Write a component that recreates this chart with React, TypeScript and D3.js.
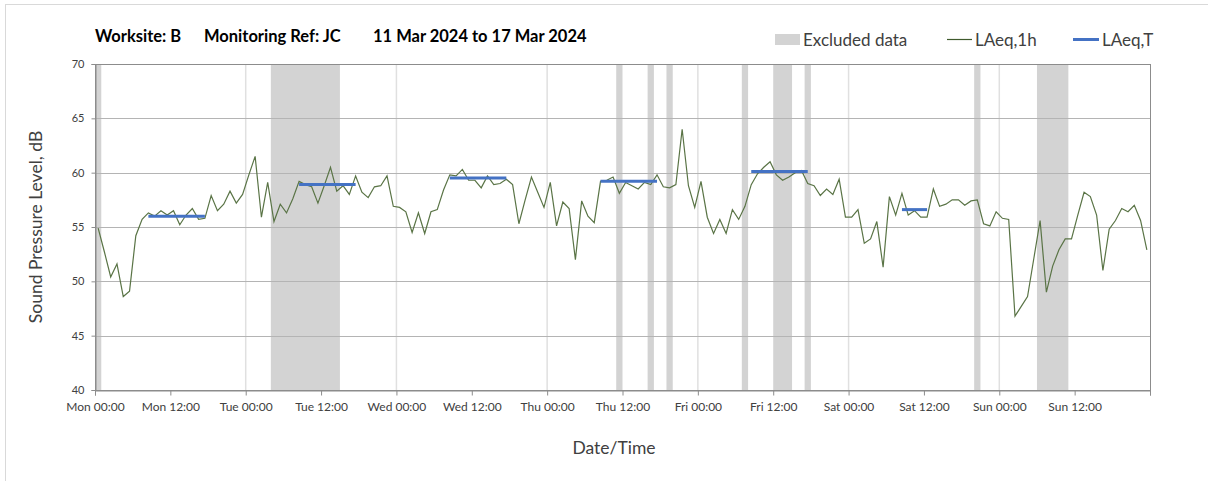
import React, { useEffect, useRef } from 'react';
import * as d3 from 'd3';

// hourly LAeq,1h values, Mon 11 Mar 00:00 .. Sun 17 Mar 23:00
const monValues = [54.9, 52.7, 50.4, 51.6, 48.6, 49.1, 54.2, 55.7, 56.3, 56.0, 56.5, 56.1, 56.5, 55.2, 56.1, 56.7, 55.7, 55.8, 57.9, 56.5, 57.1, 58.3, 57.2, 58.0];
const tueValues = [59.8, 61.5, 55.9, 59.1, 55.5, 57.1, 56.3, 57.6, 59.2, 58.9, 58.7, 57.2, 58.8, 60.5, 58.3, 58.8, 58.0, 59.7, 58.2, 57.7, 58.7, 58.8, 59.7, 56.9];
const wedValues = [56.8, 56.4, 54.5, 56.3, 54.4, 56.4, 56.6, 58.4, 59.8, 59.7, 60.3, 59.3, 59.3, 58.6, 59.7, 58.9, 59.0, 59.4, 58.9, 55.3, 57.5, 59.6, 58.2, 56.8];
const thuValues = [59.1, 55.1, 57.3, 56.7, 52.0, 57.4, 56.0, 55.4, 59.2, 59.3, 59.6, 58.1, 59.1, 58.8, 58.5, 59.1, 58.9, 59.8, 58.7, 58.6, 58.9, 64.0, 58.8, 56.8];
const friValues = [59.2, 55.9, 54.4, 55.7, 54.4, 56.6, 55.7, 56.9, 58.9, 59.9, 60.5, 61.0, 59.8, 59.3, 59.6, 60.0, 60.2, 59.0, 58.8, 57.9, 58.5, 58.0, 59.4, 55.9];
const satValues = [55.9, 56.6, 53.5, 53.9, 55.5, 51.3, 57.8, 56.1, 58.1, 56.1, 56.5, 55.9, 55.9, 58.5, 56.9, 57.1, 57.5, 57.5, 57.0, 57.4, 57.5, 55.3, 55.1, 56.4];
const sunValues = [55.8, 55.7, 46.8, 47.7, 48.6, 52.1, 55.6, 49.0, 51.4, 52.9, 53.9, 53.9, 56.1, 58.2, 57.8, 56.1, 51.0, 54.8, 55.6, 56.7, 56.4, 57.0, 55.6, 52.9];

// excluded periods, hours from Mon 00:00
const excludedStart = [0, 28, 83, 88, 91, 103, 108, 113, 140, 150];
const excludedEnd = [1, 39, 84, 89, 92, 104, 111, 114, 141, 155];

// LAeq,T working periods
const periodDay = [0, 1, 2, 3, 4, 5];
const periodStart = [8, 8, 8, 8, 8, 8];
const periodEnd = [17, 17, 17, 17, 17, 12];
const periodValue = [56.0, 58.9, 59.5, 59.2, 60.1, 56.6];

const tickLabels = ['Mon 00:00', 'Mon 12:00', 'Tue 00:00', 'Tue 12:00', 'Wed 00:00', 'Wed 12:00', 'Thu 00:00', 'Thu 12:00', 'Fri 00:00', 'Fri 12:00', 'Sat 00:00', 'Sat 12:00', 'Sun 00:00', 'Sun 12:00', ''];
const yTicks = [40, 45, 50, 55, 60, 65, 70];

const W = 1208;
const H = 481;
const FONT = 'Lato, "Open Sans", sans-serif';

export default function App() {
  const ref = useRef<SVGSVGElement>(null);

  useEffect(() => {
    const svg = d3.select(ref.current);
    svg.selectAll('*').remove();

    const left = 95, right = 1150, top = 64, bottom = 390;
    const x = d3.scaleLinear().domain([0, 168]).range([left, right]);
    const y = d3.scaleLinear().domain([40, 70]).range([bottom, top]);

    const values = [...monValues, ...tueValues, ...wedValues, ...thuValues, ...friValues, ...satValues, ...sunValues];

    // outer frame
    svg.append('rect')
      .attr('x', 5.5).attr('y', 4.5)
      .attr('width', 1220).attr('height', 500)
      .attr('fill', 'white').attr('stroke', '#d9d9d9');

    // excluded bands
    svg.append('g').selectAll('rect')
      .data(excludedStart)
      .enter()
      .append('rect')
      .attr('x', (d) => x(d))
      .attr('y', top)
      .attr('width', (d, i) => x(excludedEnd[i]) - x(d))
      .attr('height', bottom - top)
      .attr('fill', '#d3d3d3');

    // vertical grid at midnight
    svg.append('g').selectAll('line')
      .data(d3.range(24, 168, 24))
      .enter()
      .append('line')
      .attr('x1', (d) => x(d)).attr('x2', (d) => x(d))
      .attr('y1', top).attr('y2', bottom)
      .attr('stroke', '#e0e0e0').attr('stroke-width', 1.5);

    // horizontal grid
    svg.append('g').selectAll('line')
      .data(yTicks.slice(1, -1))
      .enter()
      .append('line')
      .attr('x1', left).attr('x2', right)
      .attr('y1', (d) => Math.round(y(d)) + 0.5).attr('y2', (d) => Math.round(y(d)) + 0.5)
      .attr('stroke', '#b4b4b4');

    // plot frame
    svg.append('rect')
      .attr('x', left + 0.5).attr('y', top + 0.5)
      .attr('width', right - left).attr('height', bottom - top)
      .attr('fill', 'none').attr('stroke', '#8c8c8c');

    // x axis
    const xAxis = d3.axisBottom(x)
      .tickValues(d3.range(0, 169, 12))
      .tickSize(5)
      .tickFormat((d, i) => tickLabels[i]);
    const gx = svg.append('g')
      .attr('transform', 'translate(0,' + (bottom + 0.5) + ')')
      .call(xAxis);
    gx.select('.domain').attr('stroke', '#8c8c8c');
    gx.selectAll('.tick line').attr('stroke', '#8c8c8c');
    gx.selectAll('.tick text')
      .attr('y', 12)
      .attr('fill', '#404040')
      .style('font-family', FONT)
      .style('font-size', '12px');

    // y axis
    const yAxis = d3.axisLeft(y)
      .tickValues(yTicks)
      .tickSize(4)
      .tickFormat((d) => String(d));
    const gy = svg.append('g')
      .attr('transform', 'translate(' + (left + 0.5) + ',0)')
      .call(yAxis);
    gy.select('.domain').attr('stroke', '#8c8c8c');
    gy.selectAll('.tick line').attr('stroke', '#8c8c8c');
    gy.selectAll('.tick text')
      .attr('x', -11)
      .attr('fill', '#404040')
      .style('font-family', FONT)
      .style('font-size', '11px');

    // LAeq,1h line
    const line = d3.line<number>()
      .x((d, i) => x(i + 0.5))
      .y((d) => y(d));
    svg.append('path')
      .datum(values)
      .attr('d', line)
      .attr('fill', 'none')
      .attr('stroke', '#5a7446')
      .attr('stroke-width', 1.2);

    // LAeq,T lines
    svg.append('g').selectAll('line')
      .data(periodValue)
      .enter()
      .append('line')
      .attr('x1', (d, i) => x(periodDay[i] * 24 + periodStart[i] + 0.5))
      .attr('x2', (d, i) => x(periodDay[i] * 24 + periodEnd[i] + 0.5))
      .attr('y1', (d) => y(d)).attr('y2', (d) => y(d))
      .attr('stroke', '#4472c4')
      .attr('stroke-width', 3);

    // title
    const title = svg.append('text')
      .attr('y', 42)
      .style('font-family', FONT)
      .style('font-size', '16.5px')
      .style('font-weight', 'bold')
      .attr('fill', '#000');
    title.append('tspan').attr('x', 95).text('Worksite: B');
    title.append('tspan').attr('x', 204).text('Monitoring Ref: JC');
    title.append('tspan').attr('x', 373).text('11 Mar 2024 to 17 Mar 2024');

    // legend
    const lg = svg.append('g').style('font-family', FONT).style('font-size', '17px').attr('fill', '#404040');
    lg.append('rect').attr('x', 775).attr('y', 34).attr('width', 25).attr('height', 11).attr('fill', '#d3d3d3');
    lg.append('text').attr('x', 803).attr('y', 46).text('Excluded data');
    lg.append('line').attr('x1', 947).attr('x2', 972).attr('y1', 39.5).attr('y2', 39.5).attr('stroke', '#3f5a2c').attr('stroke-width', 1.2);
    lg.append('text').attr('x', 975).attr('y', 46).text('LAeq,1h');
    lg.append('line').attr('x1', 1073).attr('x2', 1099).attr('y1', 39.5).attr('y2', 39.5).attr('stroke', '#4472c4').attr('stroke-width', 3);
    lg.append('text').attr('x', 1102).attr('y', 46).text('LAeq,T');

    // axis titles
    svg.append('text')
      .attr('x', 614).attr('y', 454)
      .attr('text-anchor', 'middle')
      .style('font-family', FONT).style('font-size', '17.5px')
      .attr('fill', '#404040')
      .text('Date/Time');
    svg.append('text')
      .attr('transform', 'translate(42,' + ((top + bottom) / 2) + ') rotate(-90)')
      .attr('text-anchor', 'middle')
      .style('font-family', FONT).style('font-size', '17.5px')
      .attr('fill', '#404040')
      .text('Sound Pressure Level, dB');
  }, []);

  return (
    <svg ref={ref} width={W} height={H} style={{ position: 'absolute', left: 0, top: 0, background: 'white' }} />
  );
}
